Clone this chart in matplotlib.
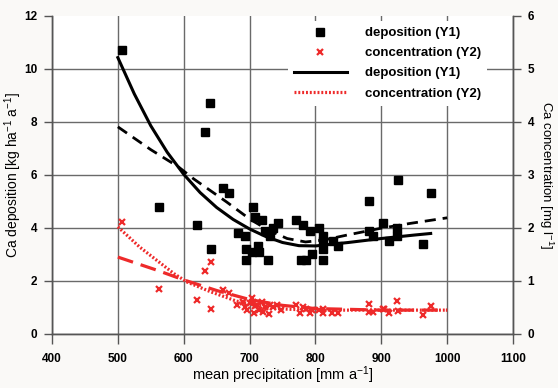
import matplotlib
matplotlib.use("Agg")
import matplotlib.pyplot as plt
from matplotlib.lines import Line2D

plt.rcParams["font.family"] = ["Liberation Sans", "DejaVu Sans"]
plt.rcParams["font.weight"] = "bold"
plt.rcParams["mathtext.default"] = "regular"

# deposition samples (Y1)
dep_x = [507, 562, 620, 632, 640, 642, 659, 669, 682, 693, 695, 695, 704, 705,
         708, 713, 715, 719, 723, 728, 731, 735, 743, 770, 778, 781, 785, 791,
         795, 805, 811, 812, 812, 812, 827, 835, 881, 882, 888, 902, 911, 924,
         924, 925, 964, 976]
dep_y = [10.7, 4.8, 4.1, 7.6, 8.7, 3.2, 5.5, 5.3, 3.8, 3.7, 3.2, 2.8, 3.1, 4.8,
         4.4, 3.3, 3.1, 4.3, 3.9, 2.8, 3.7, 4.0, 4.2, 4.3, 2.8, 4.1, 2.8, 3.9,
         3.0, 4.0, 3.7, 3.5, 3.2, 2.8, 3.5, 3.3, 3.9, 5.0, 3.7, 4.2, 3.5, 4.0,
         3.7, 5.8, 3.4, 5.3]

# concentration samples (Y2)
con_x = [507, 562, 620, 633, 641, 642, 659, 669, 681, 690, 693, 696, 700, 704,
         705, 706, 708, 712, 715, 719, 720, 723, 729, 731, 735, 742, 747, 770,
         777, 781, 785, 791, 795, 806, 811, 812, 825, 835, 881, 882, 888, 902,
         904, 911, 924, 925, 964, 976]
con_y = [2.11, 0.84, 0.65, 1.19, 1.35, 0.48, 0.82, 0.78, 0.55, 0.60, 0.50, 0.45,
         0.58, 0.67, 0.61, 0.40, 0.52, 0.55, 0.45, 0.61, 0.42, 0.50, 0.38, 0.55,
         0.50, 0.55, 0.45, 0.55, 0.39, 0.50, 0.48, 0.40, 0.45, 0.45, 0.47, 0.40,
         0.39, 0.39, 0.56, 0.42, 0.42, 0.48, 0.48, 0.39, 0.63, 0.44, 0.36, 0.53]

# fitted curves
dep_fit_x = [500, 525, 550, 575, 600, 625, 650, 675, 700, 725, 750, 775, 800,
             850, 900, 950, 975]
dep_fit_y = [10.42, 9.05, 7.85, 6.85, 6.02, 5.33, 4.77, 4.32, 3.96, 3.67, 3.45,
             3.33, 3.32, 3.45, 3.60, 3.73, 3.79]
dep_lin_x = [500, 550, 592, 615, 665, 701, 730, 757, 785, 812, 848, 898, 944, 1000]
dep_lin_y = [7.81, 6.95, 6.30, 5.85, 4.98, 4.32, 3.90, 3.60, 3.47, 3.54, 3.73,
             3.98, 4.17, 4.38]
con_fit_x = [500, 533, 560, 585, 605, 640, 680, 735, 790, 850, 1000]
con_fit_y = [2.02, 1.64, 1.38, 1.14, 0.98, 0.80, 0.62, 0.48, 0.45, 0.45, 0.45]
con_lin_x = [500, 560, 600, 650, 700, 750, 800, 900, 1000]
con_lin_y = [1.45, 1.20, 1.02, 0.82, 0.65, 0.54, 0.48, 0.45, 0.45]

RED = "#ee2a2a"
GRID = "#6a6a6a"
SPINE = "#555555"

fig = plt.figure(figsize=(5.58, 3.88), dpi=100, facecolor="#faf9f7")
ax = fig.add_axes([52 / 558, 1 - 334 / 388, 461 / 558, 318.3 / 388])
ax2 = ax.twinx()

ax.plot(dep_fit_x, dep_fit_y, color="black", lw=2.2, zorder=3)
ax.plot(dep_lin_x, dep_lin_y, color="black", lw=2.0, ls=(0, (4, 2.5)), zorder=3)
ax.plot(dep_x, dep_y, ls="none", marker="s", ms=5.2, color="black", zorder=4)

ax2.plot(con_fit_x, con_fit_y, color=RED, lw=2.3, ls=(0, (0.6, 0.6)), zorder=3)
ax2.plot(con_lin_x, con_lin_y, color=RED, lw=2.3, ls=(0, (5, 2.5)), zorder=3)
ax2.plot(con_x, con_y, ls="none", marker="x", ms=4.3, mew=1.6, color=RED, zorder=4)

ax.set_xlim(400, 1100)
ax.set_ylim(0, 12)
ax2.set_ylim(0, 6)
ax.set_xticks(range(400, 1101, 100))
ax.set_yticks(range(0, 13, 2))
ax2.set_yticks(range(0, 7))

ax.grid(True, color=GRID, lw=1.0)
ax.set_axisbelow(True)
ax.yaxis.get_gridlines()[-1].set_visible(False)

for a in (ax, ax2):
    a.spines["top"].set_visible(False)
    for s in a.spines.values():
        s.set_color(SPINE)
        s.set_linewidth(1.0)
    a.tick_params(direction="out", length=6, width=1, color=SPINE,
                  labelsize=8.5, pad=4.5)
ax.tick_params(axis="x", length=7, pad=7)

ax.set_xlabel("mean precipitation [mm a$^{-1}$]", fontsize=10.5, va="center")
ax.xaxis.set_label_coords(0.5, (334 - 375) / 318.3)
ax.set_ylabel("Ca deposition [kg ha$^{-1}$ a$^{-1}$]", fontsize=10,
              fontweight="normal", va="center", ha="center")
ax.yaxis.set_label_coords((13 - 52) / 461, 0.5)
ax2.set_ylabel("Ca concentration [mg l$^{-1}$]", fontsize=9.5, fontweight="normal",
               rotation=270, va="center", ha="center")
ax2.yaxis.set_label_coords((546 - 52) / 461, 0.5)

handles = [
    Line2D([], [], ls="none", marker="s", ms=5.2, color="black"),
    Line2D([], [], ls="none", marker="x", ms=4.3, mew=1.6, color=RED),
    Line2D([], [], color="black", lw=2.2),
    Line2D([], [], color=RED, lw=2.3, ls=(0, (0.6, 0.6))),
]
labels = ["deposition (Y1)", "concentration (Y2)", "deposition (Y1)", "concentration (Y2)"]
ax2.legend(handles, labels, loc="upper left",
           bbox_to_anchor=(288 / 558, 1 - 21 / 388), bbox_transform=fig.transFigure,
           frameon=True, fancybox=False, edgecolor="none", facecolor="white",
           framealpha=1, fontsize=9.5, handlelength=4.0, handletextpad=1.4,
           labelspacing=0.6, borderpad=0.45, borderaxespad=0)

fig.savefig("out.png", dpi=100, facecolor=fig.get_facecolor())
